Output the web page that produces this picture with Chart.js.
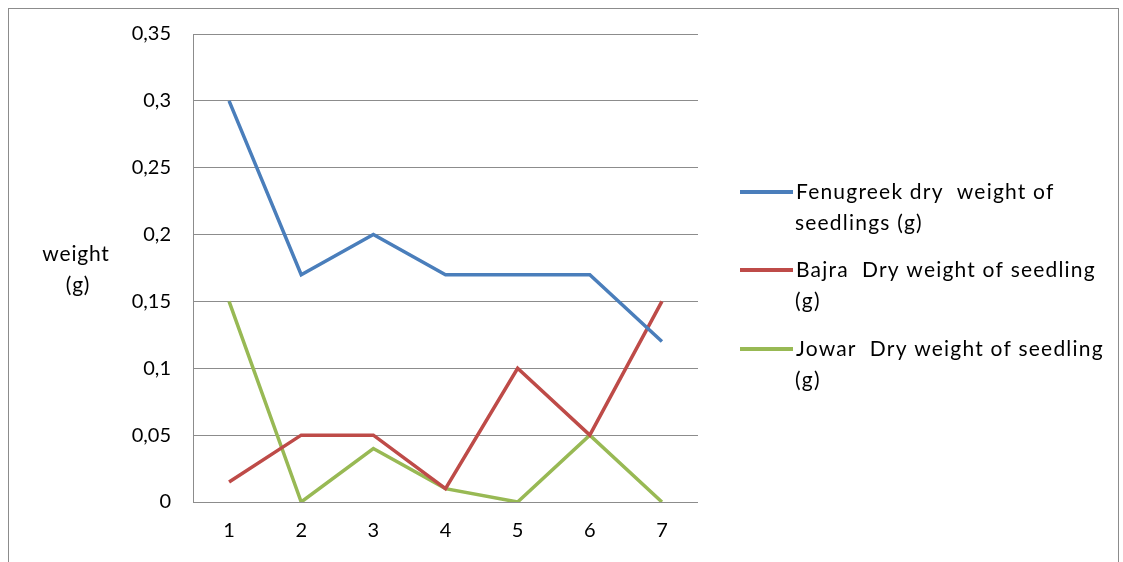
<!DOCTYPE html>
<html>
<head>
<meta charset="utf-8">
<script src="https://cdn.jsdelivr.net/npm/chart.js@4.4.1/dist/chart.umd.min.js"></script>
<style>
  html, body { margin: 0; padding: 0; background: #fff; }
  #wrap { position: relative; width: 1123px; height: 562px; }
  #frame { position: absolute; left: 8px; top: 8px; width: 1111px; height: 600px;
           border: 1px solid #8c8c8c; box-sizing: border-box; }
  canvas { position: absolute; left: 0; top: 0; }
</style>
</head>
<body>
<div id="wrap">
  <div id="frame"></div>
  <canvas id="c" width="1123" height="562"></canvas>
</div>
<script>
// Seedling samples 1..7
const categories = ['1', '2', '3', '4', '5', '6', '7'];

// Dry weight of seedlings, grams
const fenugreek = [0.30, 0.17, 0.20, 0.17, 0.17, 0.17, 0.12];
const bajra     = [0.015, 0.05, 0.05, 0.01, 0.10, 0.05, 0.15];
const jowar     = [0.15, 0.00, 0.04, 0.01, 0.00, 0.05, 0.00];

const seriesNames = [
  ['Fenugreek dry  weight of', 'seedlings (g)'],
  ['Bajra  Dry weight of seedling', '(g)'],
  ['Jowar  Dry weight of seedling', '(g)']
];

// Value axis labels, bottom to top
const yTickLabels = ['0', '0,05', '0,1', '0,15', '0,2', '0,25', '0,3', '0,35'];
const yTitle = ['weight', '(g)'];

const FONT = 'Lato, "Open Sans", sans-serif';
const colors = ['#4a7ebb', '#be4b48', '#98b954'];

// Axis title beside the value axis and a legend laid out to the right of the plot
const sidePlugin = {
  id: 'side',
  afterDraw(chart) {
    const ctx = chart.ctx;
    const area = chart.chartArea;
    ctx.save();
    ctx.fillStyle = '#000';
    ctx.font = '21px ' + FONT;
    ctx.letterSpacing = '0.8px';
    ctx.textAlign = 'center';
    ctx.textBaseline = 'middle';
    ctx.fillText(yTitle[0], 76, 254);
    ctx.fillText(yTitle[1], 78, 285);

    const rows = [192, 270, 349];
    chart.data.datasets.forEach((ds, i) => {
      const y = rows[i];
      ctx.strokeStyle = ds.borderColor;
      ctx.lineWidth = 4;
      ctx.beginPath();
      ctx.moveTo(area.right + 42, y);
      ctx.lineTo(area.right + 95, y);
      ctx.stroke();
      ctx.textAlign = 'left';
      ctx.font = '21px ' + FONT;
      ctx.letterSpacing = '1.2px';
      ctx.fillText(seriesNames[i][0], area.right + 98, y);
      ctx.fillText(seriesNames[i][1], area.right + 97, y + 31);
    });
    ctx.restore();
  }
};

const datasets = [fenugreek, bajra, jowar].map((vals, i) => ({
  label: seriesNames[i].join(' '),
  data: vals,
  borderColor: colors[i],
  backgroundColor: colors[i],
  borderWidth: 3.5,
  pointRadius: 0,
  pointHoverRadius: 0,
  tension: 0,
  fill: false
}));

new Chart(document.getElementById('c'), {
  type: 'line',
  data: { labels: categories, datasets },
  plugins: [sidePlugin],
  options: {
    responsive: false,
    animation: false,
    devicePixelRatio: 1,
    layout: { padding: { left: 0, top: 33, right: 425, bottom: 0 } },
    plugins: { legend: { display: false }, tooltip: { enabled: false } },
    scales: {
      x: {
        offset: true,
        grid: { display: false, drawTicks: false },
        border: { display: false },
        ticks: { color: '#000', font: { family: FONT, size: 20 }, padding: 17, maxRotation: 0 },
        afterFit(s) { s.height = 60; }
      },
      y: {
        min: 0,
        max: 0.35,
        grid: { color: '#8c8c8c', lineWidth: 1, drawTicks: false },
        border: { color: '#8c8c8c', width: 1 },
        ticks: {
          stepSize: 0.05,
          color: '#000',
          font: { family: FONT, size: 20 },
          padding: 22,
          callback: (v, idx) => yTickLabels[idx]
        },
        afterFit(s) { s.width = 193; }
      }
    }
  }
});
</script>
</body>
</html>
